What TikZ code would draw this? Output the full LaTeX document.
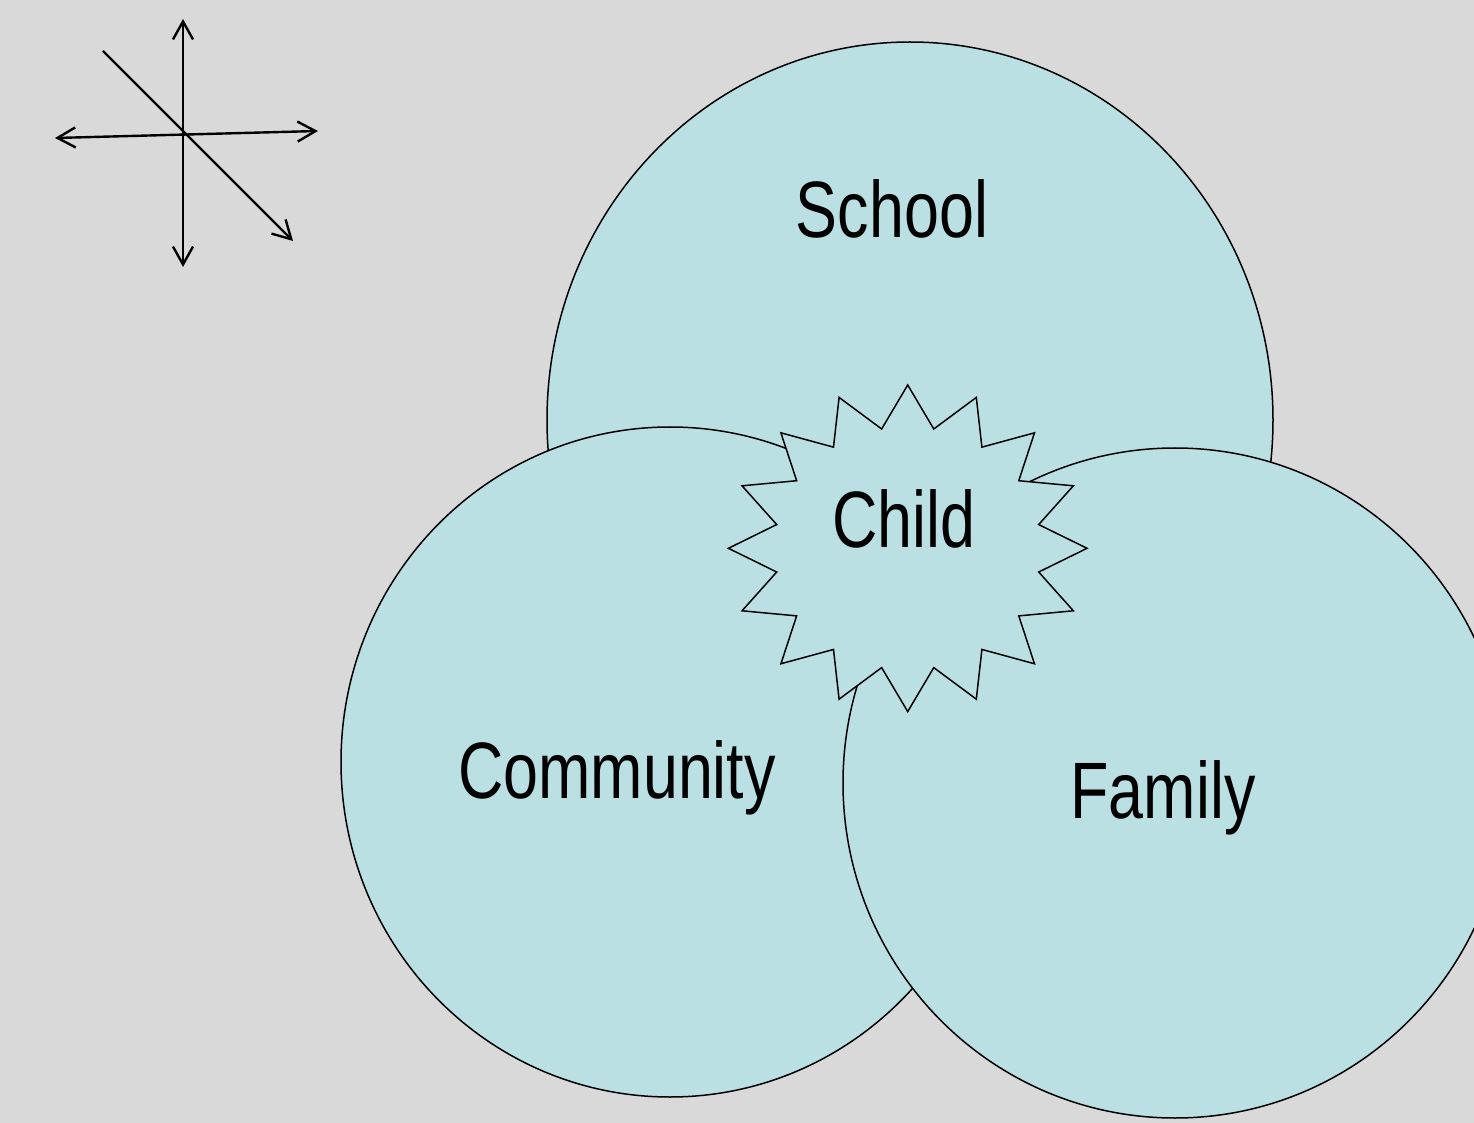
\documentclass[tikz,border=0pt]{standalone}
\usepackage{fontspec}
\newfontfamily\labelfont{Liberation Sans}[FakeStretch=0.785]
\usetikzlibrary{shapes.geometric,arrows.meta}
\definecolor{bggray}{RGB}{217,217,217}
\definecolor{venn}{RGB}{187,224,227}
\begin{document}
\begin{tikzpicture}[x=0.5pt,y=-0.5pt,
  region/.style={ellipse,draw=black,fill=venn,line width=0.75pt,inner sep=0pt},
  label/.style={font=\labelfont\fontsize{40}{48}\selectfont,inner sep=0pt,anchor=base},
  axis/.style={line width=1.2pt,black,>={Straight Barb[length=9pt,width=10pt]}}]
  % page and background
  \useasboundingbox (0,0) rectangle (1474,1123);
  \fill[bggray] (0,0) rectangle (1474,1123);
  \clip (0,0) rectangle (1474,1123);

  % direction symbol
  \coordinate (vtop) at (183,19);
  \coordinate (vbot) at (183,267);
  \coordinate (hleft) at (55,138);
  \coordinate (hright) at (318,131);
  \coordinate (dstart) at (103,51);
  \coordinate (dend) at (293,241);
  \draw[axis,<->] (vtop) -- (vbot);
  \draw[axis,<->] (hleft) -- (hright);
  \draw[axis,->] (dstart) -- (dend);

  % overlapping regions
  \node[region,minimum width=363pt,minimum height=378pt] (school) at (910,420) {};
  \node[region,minimum width=329pt,minimum height=335pt] (community) at (670,762) {};
  \node[region,minimum width=332pt,minimum height=335pt] (family) at (1175,783) {};

  % starburst in the middle
  \filldraw[fill=venn,draw=black,line width=0.75pt,line join=miter]
    (907.7,385) \foreach \i in {1,...,31}{
      -- ({907.7+179.3*(1-0.255*mod(\i,2))*cos(90-\i*11.25)},
          {548.3-163.3*(1-0.255*mod(\i,2))*sin(90-\i*11.25)})
    } -- cycle;

  % labels
  \node[label] (schooltext) at (892,238) {School};
  \node[label] (communitytext) at (617,798) {Community};
  \node[label] (childtext) at (904,547) {Child};
  \node[label] (familytext) at (1163,818) {Family};
\end{tikzpicture}
\end{document}
